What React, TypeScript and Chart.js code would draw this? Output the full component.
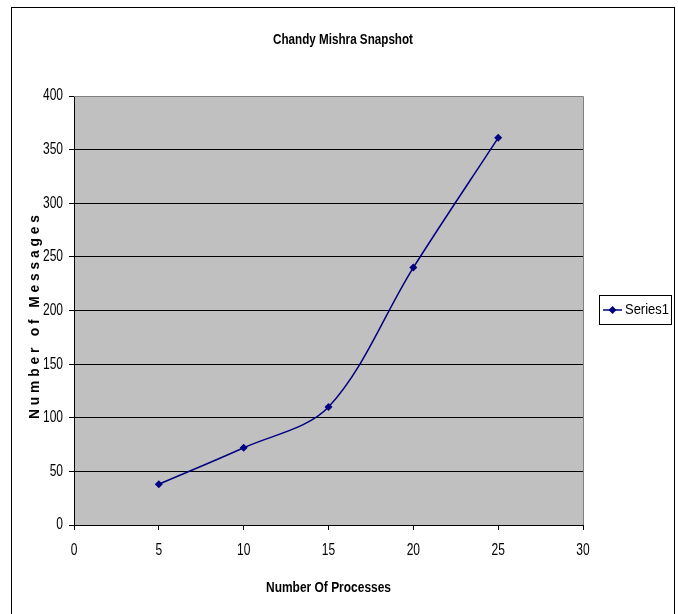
import React, { useEffect, useRef } from "react";
import { Chart, registerables } from "chart.js";

Chart.register(...registerables);

const chartTitle = "Chandy Mishra Snapshot";
const xAxisTitle = "Number Of Processes";
const yAxisTitle = "N u m b e r   o f   M e s s a g e s";
const seriesName = "Series1";
const processes = [5, 10, 15, 20, 25];
const messages = [38, 72, 110, 240, 361];
const xMin = 0;
const xMax = 30;
const xStep = 5;
const yMin = 0;
const yMax = 400;
const yStep = 50;

const FONT = "'Liberation Sans', Arial, sans-serif";
const NAVY = "#000080";
const W = 678;
const H = 614;
const AREA = { left: 74, right: 583, top: 96, bottom: 525 };

function narrowText(
  ctx: CanvasRenderingContext2D,
  text: string,
  x: number,
  y: number,
  font: string,
  opts: { width?: number; scale?: number; align?: "left" | "center" | "right"; rotate?: number }
) {
  ctx.save();
  ctx.font = font;
  ctx.textBaseline = "middle";
  ctx.textAlign = "left";
  const w = ctx.measureText(text).width;
  const s = opts.width ? opts.width / w : opts.scale || 1;
  const drawn = w * s;
  ctx.translate(x, y);
  if (opts.rotate) ctx.rotate(opts.rotate);
  let start = 0;
  const align = opts.align || "center";
  if (align === "center") start = -drawn / 2;
  else if (align === "right") start = -drawn;
  ctx.translate(start, 0);
  ctx.scale(s, 1);
  ctx.fillText(text, 0, 0);
  ctx.restore();
}

export default function App() {
  const ref = useRef<HTMLCanvasElement | null>(null);

  useEffect(() => {
    const canvas = ref.current;
    if (!canvas) return;
    const prevOverflow = document.body.style.overflow;
    const prevMargin = document.body.style.margin;
    document.body.style.overflow = "hidden";
    document.body.style.margin = "0";

    const decor = {
      id: "decor",
      beforeDraw(chart: any) {
        const { ctx, chartArea: a } = chart;
        ctx.save();
        ctx.fillStyle = "#ffffff";
        ctx.fillRect(0, 0, W, H);
        ctx.strokeStyle = "#000000";
        ctx.lineWidth = 1;
        ctx.strokeRect(11.5, 7.5, 663, H);
        ctx.fillStyle = "#C0C0C0";
        ctx.fillRect(a.left, a.top, a.right - a.left, a.bottom - a.top);
        ctx.restore();
      },
      afterDraw(chart: any) {
        const { ctx, chartArea: a } = chart;
        ctx.save();
        ctx.strokeStyle = "#808080";
        ctx.lineWidth = 1;
        ctx.beginPath();
        ctx.moveTo(a.left, Math.round(a.top) + 0.5);
        ctx.lineTo(Math.round(a.right) + 0.5, Math.round(a.top) + 0.5);
        ctx.lineTo(Math.round(a.right) + 0.5, a.bottom);
        ctx.stroke();
        ctx.fillStyle = "#000000";

        const xs = chart.scales.x;
        const ys = chart.scales.y;
        const tickFont = `16px ${FONT}`;
        ys.ticks.forEach((t: any) => {
          const py = ys.getPixelForValue(t.value);
          narrowText(ctx, String(t.label), 63, py, tickFont, { scale: 0.75, align: "right" });
        });
        xs.ticks.forEach((t: any) => {
          const px = xs.getPixelForValue(t.value);
          narrowText(ctx, String(t.label), px, 551, tickFont, { scale: 0.75, align: "center" });
        });

        const boldFont = `bold 15px ${FONT}`;
        narrowText(ctx, chartTitle, 343, 40, boldFont, { width: 140, align: "center" });
        narrowText(ctx, xAxisTitle, (a.left + a.right) / 2, 588, boldFont, { width: 125, align: "center" });
        narrowText(ctx, yAxisTitle, 35, 317, `bold 14px ${FONT}`, { width: 204, align: "center", rotate: -Math.PI / 2 });

        const lx = 599.5, ly = 295.5, lw = 72, lh = 29;
        ctx.strokeStyle = "#000000";
        ctx.lineWidth = 1;
        ctx.strokeRect(lx, ly, lw, lh);
        const cy = ly + lh / 2;
        ctx.strokeStyle = NAVY;
        ctx.lineWidth = 1.5;
        ctx.beginPath();
        ctx.moveTo(603, cy);
        ctx.lineTo(622, cy);
        ctx.stroke();
        ctx.fillStyle = NAVY;
        ctx.beginPath();
        ctx.moveTo(612.5, cy - 4);
        ctx.lineTo(616.5, cy);
        ctx.lineTo(612.5, cy + 4);
        ctx.lineTo(608.5, cy);
        ctx.closePath();
        ctx.fill();
        ctx.fillStyle = "#000000";
        narrowText(ctx, seriesName, 625, cy, `15px ${FONT}`, { width: 44, align: "left" });
        ctx.restore();
      },
    };

    const chart = new Chart(canvas, {
      type: "line",
      data: {
        datasets: [
          {
            label: seriesName,
            data: processes.map((x, i) => ({ x, y: messages[i] })),
            borderColor: NAVY,
            backgroundColor: NAVY,
            borderWidth: 1.5,
            pointStyle: "rectRot",
            pointRadius: 4,
            pointBorderWidth: 0,
            tension: 0.33,
            fill: false,
          },
        ],
      },
      options: {
        responsive: false,
        animation: false,
        layout: { padding: { top: AREA.top, right: W - AREA.right, bottom: 0, left: 0 } },
        plugins: { legend: { display: false }, title: { display: false }, tooltip: { enabled: false } },
        scales: {
          x: {
            type: "linear",
            min: xMin,
            max: xMax,
            afterFit: (s: any) => { s.height = H - AREA.bottom; },
            ticks: { stepSize: xStep, display: false },
            grid: { drawOnChartArea: false, drawTicks: true, tickLength: 5, color: "#000", tickColor: "#000" },
            border: { display: true, color: "#000", width: 1 },
            title: { display: false },
          },
          y: {
            type: "linear",
            min: yMin,
            max: yMax,
            afterFit: (s: any) => { s.width = AREA.left; },
            ticks: { stepSize: yStep, display: false },
            grid: {
              drawOnChartArea: true,
              drawTicks: true,
              tickLength: 5,
              color: (c: any) => (c.tick && c.tick.value > yMin && c.tick.value < yMax ? "#000" : "rgba(0,0,0,0)"),
              tickColor: "#000",
            },
            border: { display: true, color: "#000", width: 1 },
            title: { display: false },
          },
        },
      },
      plugins: [decor],
    } as any);

    return () => {
      chart.destroy();
      document.body.style.overflow = prevOverflow;
      document.body.style.margin = prevMargin;
    };
  }, []);

  return <canvas ref={ref} width={W} height={H} style={{ display: "block", width: W, height: H }} />;
}
